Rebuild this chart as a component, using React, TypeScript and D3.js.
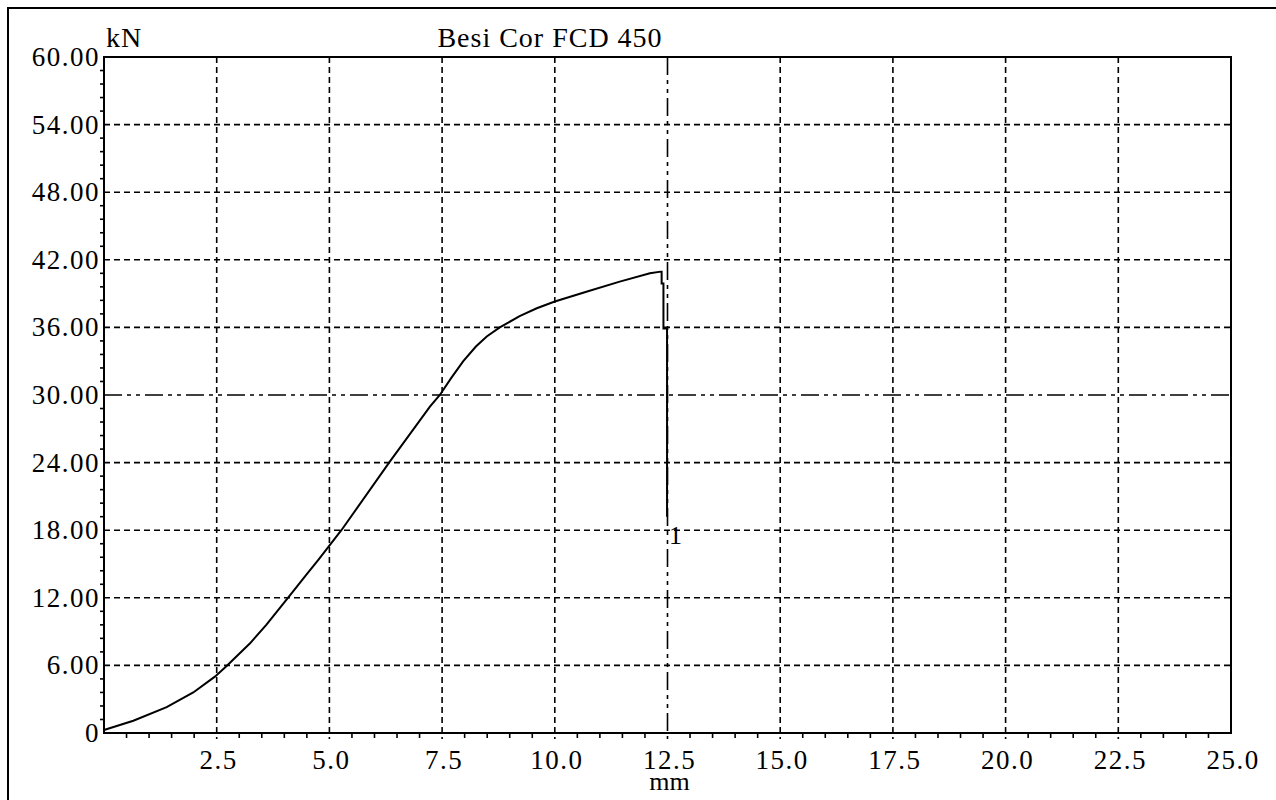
import React from "react";
import * as d3 from "d3";

// Tensile test record: load (kN) against crosshead displacement (mm)
const chartTitle = "Besi Cor FCD 450";
const yUnit = "kN";
const xUnit = "mm";

const displacementMm = [
  0, 0.65, 1.39, 1.98, 2.46, 2.72, 3.24, 3.6, 4.08, 4.49, 4.75, 5.27, 6.34, 7.23, 7.45,
  7.7, 7.97, 8.25, 8.49, 8.78, 9.22, 9.6, 10.0, 10.7, 11.44, 12.11, 12.35, 12.37, 12.37,
  12.41, 12.41, 12.49, 12.49,
];
const loadKn = [
  0.27, 1.09, 2.3, 3.6, 5.0, 5.95, 7.96, 9.59, 12.0, 14.05, 15.35, 18.02, 24.08, 28.96,
  30.0, 31.5, 33.0, 34.3, 35.2, 36.0, 37.0, 37.7, 38.3, 39.17, 40.06, 40.8, 40.95, 40.95,
  39.9, 39.9, 35.9, 35.9, 19.2,
];

const xTicks = [2.5, 5.0, 7.5, 10.0, 12.5, 15.0, 17.5, 20.0, 22.5, 25.0];
const yTicks = [0, 6, 12, 18, 24, 30, 36, 42, 48, 54, 60];
const specimenLabel = "1";

const W = 1276;
const H = 800;
const plot = { left: 104, right: 1231, top: 57, bottom: 733 };
const FONT = "'Liberation Serif', 'Times New Roman', serif";

export default function App() {
  const x = d3.scaleLinear().domain([0, 25]).range([plot.left, plot.right]);
  const y = d3.scaleLinear().domain([0, 60]).range([plot.bottom, plot.top]);

  const pts: [number, number][] = displacementMm.map((d, i) => [d, loadKn[i]]);
  const line = d3
    .line<[number, number]>()
    .x((d) => x(d[0]))
    .y((d) => y(d[1]))
    .curve(d3.curveLinear);

  const xMinor = d3.range(0.5, 25, 0.5).filter((v) => Math.abs(v / 2.5 - Math.round(v / 2.5)) > 1e-6);
  const yMinor = d3.range(1.2, 60, 1.2).filter((v) => Math.abs(v / 6 - Math.round(v / 6)) > 1e-6);

  const gridDash = "6,4";
  const centerDash = "18,5,4,5,4,5";
  const last = pts[pts.length - 1];

  return (
    <svg
      width={W}
      height={H}
      style={{ position: "absolute", left: 0, top: 0, background: "#fff" }}
      fontFamily={FONT}
    >
      {/* outer frame */}
      <rect x={8} y={8} width={W + 20} height={H + 20} fill="none" stroke="#000" strokeWidth={2} />

      {/* grid */}
      <g stroke="#000" strokeWidth={1.6} fill="none">
        {xTicks
          .filter((v) => v < 25)
          .map((v) => (
            <line
              key={"gx" + v}
              x1={x(v)}
              x2={x(v)}
              y1={plot.top}
              y2={plot.bottom + 6}
              strokeDasharray={v === 12.5 ? centerDash : gridDash}
            />
          ))}
        {yTicks
          .filter((v) => v > 0 && v < 60)
          .map((v) => (
            <line
              key={"gy" + v}
              x1={plot.left}
              x2={plot.right}
              y1={y(v)}
              y2={y(v)}
              strokeDasharray={v === 30 ? centerDash : gridDash}
            />
          ))}
      </g>

      {/* minor ticks */}
      <g stroke="#000" strokeWidth={1.6}>
        {xMinor.map((v) => (
          <line key={"mx" + v} x1={x(v)} x2={x(v)} y1={plot.bottom} y2={plot.bottom + 5} />
        ))}
        {yMinor.map((v) => (
          <line key={"my" + v} x1={plot.left - 4} x2={plot.left} y1={y(v)} y2={y(v)} />
        ))}
      </g>

      {/* plot border */}
      <rect
        x={plot.left}
        y={plot.top}
        width={plot.right - plot.left}
        height={plot.bottom - plot.top}
        fill="none"
        stroke="#000"
        strokeWidth={2}
      />

      {/* load curve */}
      <path d={line(pts) ?? ""} fill="none" stroke="#000" strokeWidth={2} strokeLinejoin="miter" />
      <text x={x(last[0]) + 2} y={y(last[1]) + 27} fontSize={26} fill="#000">
        {specimenLabel}
      </text>

      {/* y tick labels */}
      <g fontSize={27} fill="#000" textAnchor="end" letterSpacing={1.5}>
        {yTicks.map((v) => (
          <text key={"ly" + v} x={plot.left - 4} y={y(v) + 9}>
            {v === 0 ? "0" : v.toFixed(2)}
          </text>
        ))}
      </g>

      {/* x tick labels */}
      <g fontSize={27} fill="#000" textAnchor="middle" letterSpacing={1.5}>
        {xTicks.map((v) => (
          <text key={"lx" + v} x={x(v) + 2} y={769}>
            {v.toFixed(1)}
          </text>
        ))}
      </g>

      {/* units and title */}
      <text x={plot.left + 2} y={47} fontSize={28} fill="#000" letterSpacing={1}>
        {yUnit}
      </text>
      <text x={x(12.5) + 2} y={790} fontSize={26} fill="#000" textAnchor="middle">
        {xUnit}
      </text>
      <text x={550} y={47} fontSize={28} fill="#000" textAnchor="middle" letterSpacing={1}>
        {chartTitle}
      </text>
    </svg>
  );
}
